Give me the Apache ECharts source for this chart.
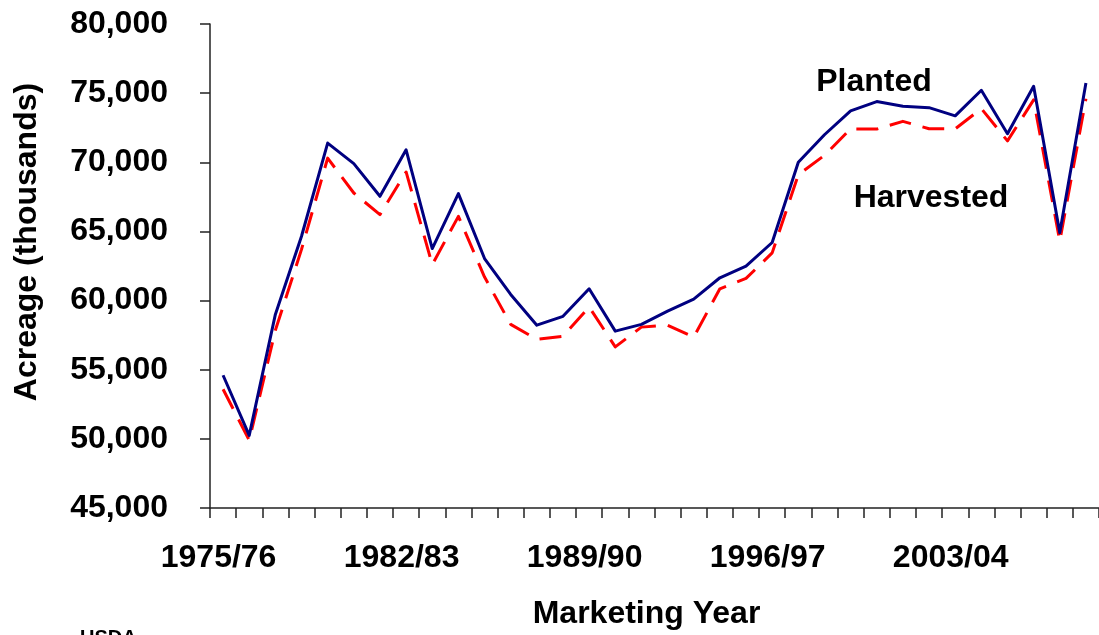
<!DOCTYPE html>
<html>
<head>
<meta charset="utf-8">
<title>Soybean Acreage: Planted and Harvested</title>
<script src="https://cdn.jsdelivr.net/npm/echarts@6/dist/echarts.min.js"></script>
<style>
  html, body { margin: 0; padding: 0; background: #fff; }
  #chart { width: 1099px; height: 635px; }
</style>
</head>
<body>
<div id="chart"></div>
<script>
// Marketing years (one category per year)
const marketingYears = [
  '1975/76', '1976/77', '1977/78', '1978/79', '1979/80', '1980/81', '1981/82',
  '1982/83', '1983/84', '1984/85', '1985/86', '1986/87', '1987/88', '1988/89',
  '1989/90', '1990/91', '1991/92', '1992/93', '1993/94', '1994/95', '1995/96',
  '1996/97', '1997/98', '1998/99', '1999/00', '2000/01', '2001/02', '2002/03',
  '2003/04', '2004/05', '2005/06', '2006/07', '2007/08', '2008/09'
];

// Acreage, thousands
const plantedAcres = [
  54600, 50250, 59000, 64650, 71390, 69900, 67540,
  70900, 63760, 67730, 63040, 60440, 58220, 58860,
  60850, 57790, 58280, 59240, 60100, 61650, 62490,
  64200, 70000, 71990, 73720, 74390, 74050, 73950,
  73360, 75210, 72060, 75500, 64900, 75740
];
const harvestedAcres = [
  53590, 49900, 57850, 63700, 70300, 67780, 66215,
  69300, 62600, 66090, 61700, 58280, 57195, 57410,
  59540, 56650, 58080, 58220, 57360, 60850, 61600,
  63450, 69100, 70500, 72420, 72400, 72960, 72430,
  72420, 73880, 71550, 74510, 64300, 74600
];

const FONT = "'Liberation Sans', Arial, Helvetica, sans-serif";

const chart = echarts.init(document.getElementById('chart'), null, { renderer: 'canvas' });

chart.setOption({
  backgroundColor: '#ffffff',
  animation: false,
  grid: { left: 210, top: 24, width: 892.5, height: 485, containLabel: false },
  xAxis: {
    type: 'category',
    data: marketingYears,
    boundaryGap: true,
    name: 'Marketing Year',
    nameLocation: 'middle',
    nameGap: 90,
    nameTextStyle: { fontFamily: FONT, fontWeight: 'bold', fontSize: 32, color: '#000', padding: [0, 16, 0, 0] },
    axisLine: { show: true, lineStyle: { color: '#222', width: 1.5 } },
    axisTick: { show: true, interval: 0, length: 10, inside: false, lineStyle: { color: '#222', width: 1.5 } },
    axisLabel: {
      interval: 6,
      margin: 34,
      fontFamily: FONT,
      fontWeight: 'bold',
      fontSize: 32,
      color: '#000',
      padding: [0, 9, 0, 0]
    },
    splitLine: { show: false }
  },
  yAxis: {
    type: 'value',
    min: 45000,
    max: 80000,
    interval: 5000,
    axisLine: { show: true, lineStyle: { color: '#222', width: 1.5 } },
    axisTick: { show: true, length: 10, inside: false, lineStyle: { color: '#222', width: 1.5 } },
    axisLabel: {
      margin: 42,
      fontFamily: FONT,
      fontWeight: 'bold',
      fontSize: 32,
      color: '#000',
      formatter: v => v.toLocaleString('en-US')
    },
    splitLine: { show: false }
  },
  series: [
    {
      name: 'Planted',
      type: 'line',
      data: plantedAcres,
      symbol: 'none',
      lineStyle: { color: '#000080', width: 3, join: 'round' },
      itemStyle: { color: '#000080' },
      z: 3
    },
    {
      name: 'Harvested',
      type: 'line',
      data: harvestedAcres,
      symbol: 'none',
      lineStyle: { color: '#ff0000', width: 3, type: [22, 12], join: 'round' },
      itemStyle: { color: '#ff0000' },
      z: 2
    }
  ],
  graphic: [
    {
      type: 'text', left: 'auto', x: 874, y: 82, z: 10,
      style: { text: 'Planted', fontFamily: FONT, fontWeight: 'bold', fontSize: 32, fill: '#000', align: 'center', verticalAlign: 'middle' }
    },
    {
      type: 'text', x: 931, y: 198, z: 10,
      style: { text: 'Harvested', fontFamily: FONT, fontWeight: 'bold', fontSize: 32, fill: '#000', align: 'center', verticalAlign: 'middle' }
    },
    {
      type: 'text', x: 27, y: 242, rotation: Math.PI / 2, z: 10,
      style: { text: 'Acreage (thousands)', fontFamily: FONT, fontWeight: 'bold', fontSize: 32, fill: '#000', align: 'center', verticalAlign: 'middle' }
    },
    {
      type: 'text', x: 80, y: 628, z: 10,
      style: { text: 'USDA', fontFamily: FONT, fontWeight: 'bold', fontSize: 20, fill: '#000', align: 'left', verticalAlign: 'top' }
    }
  ]
});
</script>
</body>
</html>
